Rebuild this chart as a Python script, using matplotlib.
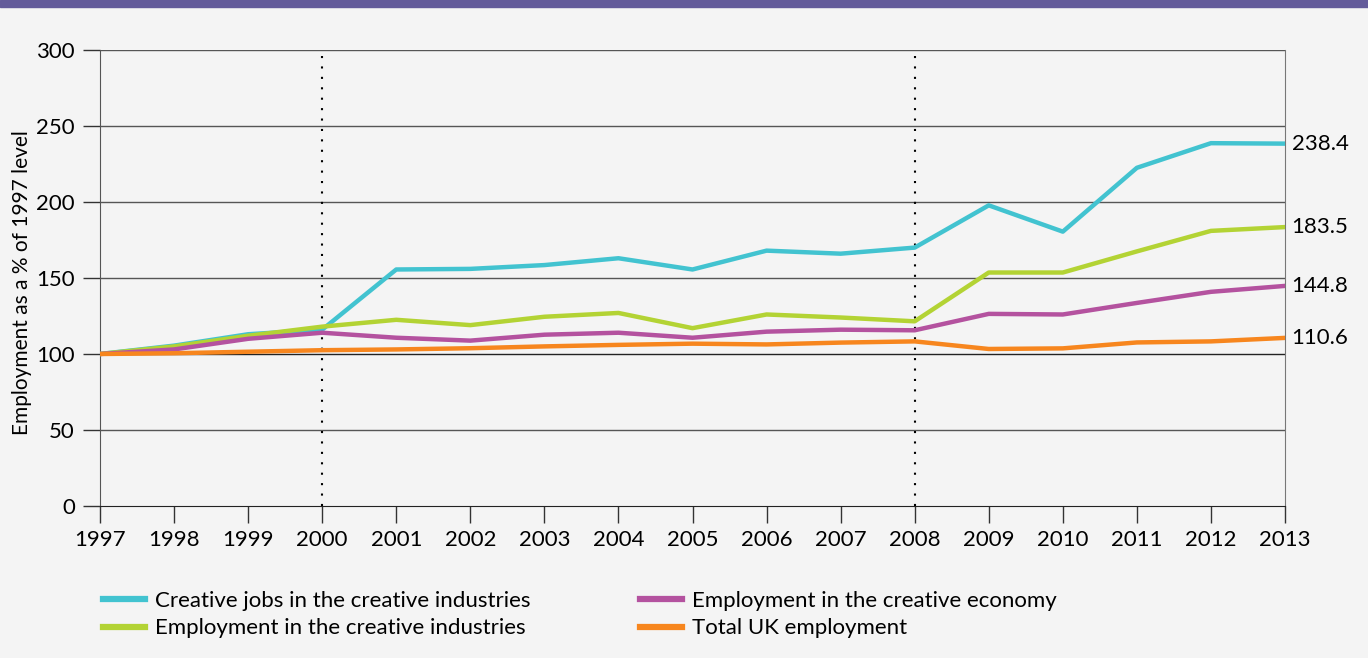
import matplotlib
matplotlib.use("Agg")
import matplotlib.pyplot as plt
from matplotlib.lines import Line2D

years = list(range(1997, 2014))
creative_jobs = [100, 105.5, 113, 116, 155.6, 156, 158.5, 163, 155.6, 168, 166, 170, 197.8, 180.5, 222.5, 238.7, 238.4]
creative_ind = [100, 105, 112, 118, 122.5, 119, 124.5, 127, 117, 126, 124, 121.5, 153.6, 153.6, 167.5, 181, 183.5]
creative_econ = [100, 103, 110, 114, 110.7, 108.8, 112.7, 114, 110.7, 114.7, 116, 115.6, 126.4, 126, 133.6, 140.9, 144.8]
total_uk = [100, 100.5, 101.5, 102.5, 103, 103.8, 105, 106, 106.8, 106.3, 107.5, 108.3, 103.3, 103.7, 107.6, 108.3, 110.6]
end_labels = ["238.4", "183.5", "144.8", "110.6"]
series_names = ["Creative jobs in the creative industries", "Employment in the creative industries",
                "Employment in the creative economy", "Total UK employment"]
colors = ["#42c3d0", "#b3d334", "#b4529f", "#f7861e"]
yticks = [0, 50, 100, 150, 200, 250, 300]
marker_years = [2000, 2008]

plt.rcParams['font.family'] = ['Lato', 'DejaVu Sans']
bg = "#f4f4f4"
fig = plt.figure(figsize=(13.68, 6.58), dpi=100, facecolor=bg)
W, H = 1368, 658
# top band
fig.add_artist(plt.Rectangle((0, 1 - 7 / H), 1, 7 / H, transform=fig.transFigure, color="#635b9a", zorder=5))

ax = fig.add_axes([100 / W, 1 - 506 / H, (1285 - 100) / W, (506 - 50) / H])
ax.set_facecolor(bg)
ax.set_xlim(1997, 2013)
ax.set_ylim(0, 300)

for y in yticks[1:]:
    ax.axhline(y, color="#555555" if y != 100 else "#222222", lw=1.0, zorder=1)
for xv in marker_years:
    ax.axvline(xv, color="black", lw=1.5, ls=(0, (1, 4)), zorder=2)

data = [creative_jobs, creative_ind, creative_econ, total_uk]
for i in range(4):
    ax.plot(years, data[i], color=colors[i], lw=3.2, zorder=3)

for i, lab in enumerate(end_labels):
    ax.text(2013.09, data[i][-1], lab, fontsize=16, va='center', ha='left', clip_on=False)

ax.set_yticks(yticks)
ax.set_xticks(years)
ax.tick_params(axis='both', labelsize=16, length=12, width=1, color="#333333", direction='out')
ax.tick_params(axis='y', pad=6)
ax.tick_params(axis='x', pad=5)
ax.spines['top'].set_visible(False)
ax.spines['left'].set_color("#555555")
ax.spines['right'].set_color("#777777")
ax.spines['bottom'].set_color("#222222")
ax.set_ylabel("Employment as a % of 1997 level", fontsize=15)
ax.yaxis.set_label_coords(-0.0575, 0.49)

common = dict(frameon=False, fontsize=16, handlelength=1.9, handletextpad=0.45,
              labelspacing=0.33, borderaxespad=0, borderpad=0)
leg1 = fig.legend([Line2D([0], [0], color=colors[0], lw=4.5), Line2D([0], [0], color=colors[1], lw=4.5)],
                  [series_names[0], series_names[1]], loc='upper left',
                  bbox_to_anchor=(103 / W, 1 - 591 / H), **common)
leg2 = fig.legend([Line2D([0], [0], color=colors[2], lw=4.5), Line2D([0], [0], color=colors[3], lw=4.5)],
                  [series_names[2], series_names[3]], loc='upper left',
                  bbox_to_anchor=(640 / W, 1 - 591 / H), **common)

fig.savefig("out.png", dpi=100, facecolor=bg)
